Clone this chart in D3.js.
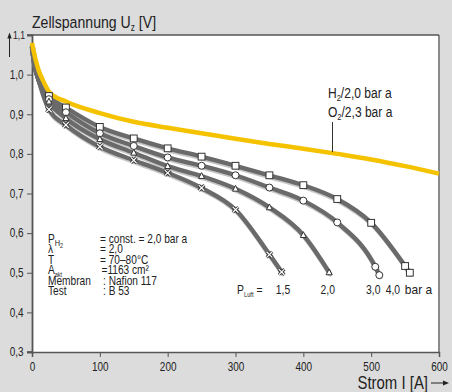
<!DOCTYPE html>
<html><head><meta charset="utf-8">
<script src="https://cdn.jsdelivr.net/npm/d3@7"></script>
<style>
html,body{margin:0;padding:0;background:#dcdcdc;}
svg text{font-family:"Liberation Sans",Arial,"Helvetica",sans-serif;fill:#222;}
</style></head>
<body><svg id="c" width="452" height="392"></svg>
<script>
// ---- data ----
const xTicks = [0, 100, 200, 300, 400, 500, 600];
const yTicks = [0.3, 0.4, 0.5, 0.6, 0.7, 0.8, 0.9, 1.0];
const yTickLabels = ["0,3", "0,4", "0,5", "0,6", "0,7", "0,8", "0,9", "1,0"];
// Pure H2/O2 reference curve (current A, voltage V)
const h2o2I = [0, 5, 10, 16, 26, 50, 100, 150, 200, 250, 300, 350, 400, 450, 500, 550, 600];
const h2o2U = [1.08, 1.04, 1.01, 0.986, 0.955, 0.932, 0.903, 0.881, 0.866, 0.852, 0.838, 0.825, 0.813, 0.800, 0.786, 0.769, 0.750];
// common start of the air curves
const startI = [0, 3, 10];
const startU = [1.07, 1.03, 0.985];
// air pressure series
const luft40I = [25, 50, 100, 150, 200, 250, 300, 350, 400, 450, 500, 550, 557];
const luft40U = [0.946, 0.917, 0.868, 0.839, 0.814, 0.793, 0.770, 0.746, 0.721, 0.686, 0.626, 0.517, 0.500];
const luft30I = [25, 50, 100, 150, 200, 250, 300, 350, 400, 450, 506, 512];
const luft30U = [0.938, 0.905, 0.852, 0.820, 0.791, 0.770, 0.746, 0.715, 0.682, 0.627, 0.515, 0.494];
const luft20I = [25, 50, 100, 150, 200, 250, 300, 350, 400, 438];
const luft20U = [0.932, 0.890, 0.837, 0.803, 0.769, 0.744, 0.712, 0.665, 0.595, 0.501];
const luft15I = [25, 50, 100, 150, 200, 250, 300, 350, 368];
const luft15U = [0.912, 0.873, 0.818, 0.784, 0.752, 0.714, 0.659, 0.546, 0.502];
const seriesNames = ["4,0", "3,0", "2,0", "1,5"];
const seriesMarkers = ["square", "circle", "triangle", "cross"];
const pLabelI = [532, 503, 436, 370]; // label positions (current) under curves

const S = d3.select("#c");
const W = 452, H = 392;
const SX = 0.83; // condensed look
const x = d3.scaleLinear().domain([0, 600]).range([32, 439]);
const y = d3.scaleLinear().domain([0.3, 1.1]).range([352, 35]);

function T(parent, tx, ty, size, anchor, sx) {
  return parent.append("text")
    .attr("transform", `translate(${tx},${ty}) scale(${sx || SX},1)`)
    .attr("font-size", size).attr("text-anchor", anchor || "start");
}

S.append("rect").attr("width", W).attr("height", H).attr("fill", "#dcdcdc");
S.append("rect").attr("x", x(0)).attr("y", y(1.1)).attr("width", x(600) - x(0)).attr("height", y(0.3) - y(1.1)).attr("fill", "#fff");

// frame
S.append("line").attr("x1", x(600)).attr("x2", x(600)).attr("y1", y(1.1)).attr("y2", y(0.3)).attr("stroke", "#8a8a8a").attr("stroke-width", 2);
S.append("line").attr("x1", 27).attr("x2", x(600)).attr("y1", y(1.1)).attr("y2", y(1.1)).attr("stroke", "#555").attr("stroke-width", 1.3);

// axes
const yAxis = d3.axisLeft(y).tickValues(yTicks).tickSize(5).tickFormat((d, i) => yTickLabels[i]);
const gy = S.append("g").attr("transform", `translate(${x(0)},0)`).call(yAxis);
gy.select(".domain").attr("stroke", "#555").attr("stroke-width", 1.8);
gy.selectAll(".tick line").attr("stroke", "#555");
gy.selectAll(".tick text").attr("font-size", 12).attr("fill", "#222")
  .attr("transform", `scale(${SX},1)`).attr("x", -8.5 / SX);

const xAxis = d3.axisBottom(x).tickValues(xTicks).tickSize(5).tickFormat(d3.format("d"));
const gx = S.append("g").attr("transform", `translate(0,${y(0.3)})`).call(xAxis);
gx.select(".domain").attr("stroke", "#555").attr("stroke-width", 1.5);
gx.selectAll(".tick line").attr("stroke", "#555");
gx.selectAll(".tick text").attr("font-size", 12).attr("fill", "#222").attr("y", 10)
  .attr("transform", `scale(${SX},1)`);
S.append("line").attr("x1", 27).attr("x2", x(0)).attr("y1", y(0.3)).attr("y2", y(0.3)).attr("stroke", "#555").attr("stroke-width", 1.5);

// 1,1 label + arrow
T(S, 25, y(1.1) + 4, 10.5, "end").text("1,1");
S.append("line").attr("x1", 9.5).attr("x2", 9.5).attr("y1", 57).attr("y2", 37).attr("stroke", "#222").attr("stroke-width", 1);
S.append("path").attr("d", "M7.3,38.5L9.5,32.5L11.7,38.5Z").attr("fill", "#222");

// title
const t = T(S, 32, 28, 17);
t.append("tspan").text("Zellspannung U");
t.append("tspan").attr("font-size", 10).attr("dy", 3).text("z");
t.append("tspan").attr("dy", -3).text(" [V]");

// x label
T(S, 428, 389, 18, "end").text("Strom I [A]");
S.append("line").attr("x1", 431).attr("x2", 445).attr("y1", 383).attr("y2", 383).attr("stroke", "#222").attr("stroke-width", 1);
S.append("path").attr("d", "M443,380.5L449,383L443,385.5Z").attr("fill", "#222");

// curves
const line = d3.line().x(d => x(d[0])).y(d => y(d[1])).curve(d3.curveMonotoneX);
const zip = (a, b) => a.map((v, i) => [v, b[i]]);
const startPts = zip(startI, startU);
const series = [
  zip(luft40I, luft40U),
  zip(luft30I, luft30U),
  zip(luft20I, luft20U),
  zip(luft15I, luft15U)
];
const gLines = S.append("g");
series.forEach(s => {
  const pts = startPts.concat(s);
  gLines.append("path").attr("d", line(pts)).attr("fill", "none").attr("stroke", "#c6c6c6").attr("stroke-width", 5).attr("transform", "translate(1,1.7)").attr("stroke-linecap", "round");
});
series.forEach(s => {
  const pts = startPts.concat(s);
  gLines.append("path").attr("d", line(pts)).attr("fill", "none").attr("stroke", "#6a6a6a").attr("stroke-width", 4.4).attr("stroke-linecap", "round");
});
S.append("path").attr("d", line(zip(h2o2I, h2o2U))).attr("fill", "none").attr("stroke", "#f5c200").attr("stroke-width", 4.5);

// markers
const mk = S.append("g");
series.forEach((s, k) => {
  const type = seriesMarkers[k];
  s.forEach(p => {
    const cx = x(p[0]), cy = y(p[1]);
    if (type === "square") {
      mk.append("rect").attr("x", cx - 3.4).attr("y", cy - 3.4).attr("width", 6.8).attr("height", 6.8).attr("fill", "#fff").attr("stroke", "#333").attr("stroke-width", 1);
    } else if (type === "circle") {
      mk.append("circle").attr("cx", cx).attr("cy", cy).attr("r", 3.5).attr("fill", "#fff").attr("stroke", "#333").attr("stroke-width", 1);
    } else if (type === "triangle") {
      mk.append("path").attr("d", `M${cx},${cy - 3.4}L${cx + 3},${cy + 2.4}L${cx - 3},${cy + 2.4}Z`).attr("fill", "#fff").attr("stroke", "#333").attr("stroke-width", 1);
    } else {
      const d = `M${cx - 2.8},${cy - 2.8}L${cx + 2.8},${cy + 2.8}M${cx - 2.8},${cy + 2.8}L${cx + 2.8},${cy - 2.8}`;
      mk.append("path").attr("d", d).attr("stroke", "#333").attr("stroke-width", 3);
      mk.append("path").attr("d", d).attr("stroke", "#fff").attr("stroke-width", 1.2);
    }
  });
});

// H2/O2 label
S.append("line").attr("x1", x(443)).attr("x2", x(443)).attr("y1", 122).attr("y2", y(0.802) - 1).attr("stroke", "#333").attr("stroke-width", 1);
const l1 = T(S, 328, 98, 14.5);
l1.append("tspan").text("H");
l1.append("tspan").attr("font-size", 9).attr("dy", 3).text("2");
l1.append("tspan").attr("dy", -3).text("/2,0 bar a");
const l2 = T(S, 328, 116.5, 14.5);
l2.append("tspan").text("O");
l2.append("tspan").attr("font-size", 9).attr("dy", 3).text("2");
l2.append("tspan").attr("dy", -3).text("/2,3 bar a");

// condition block
const condLabels = ["P", "λ", "T", "A", "Membran", "Test"];
const condValues = ["= const. = 2,0 bar a", "= 2,0", "= 70–80°C", "=1163 cm²", ": Nafion 117", ": B 53"];
const condY = [242.5, 253, 263.5, 274, 284.5, 295];
const condX = [100, 100, 100, 101.5, 103, 103];
const BS = 0.78;
condLabels.forEach((lab, i) => {
  const tt = T(S, 48, condY[i], 13, "start", BS);
  tt.append("tspan").text(lab);
  if (i === 0) {
    tt.append("tspan").attr("font-size", 9.5).attr("dy", 3).text("H");
    tt.append("tspan").attr("font-size", 7).attr("dy", 2.5).text("2");
  }
  if (i === 3) {
    tt.append("tspan").attr("font-size", 7).attr("dy", 2.5).text("akt");
  }
  T(S, condX[i], condY[i], 13, "start", BS).text(condValues[i]);
});

// P_Luft labels
const pl = T(S, 237, 294, 12.5);
pl.append("tspan").text("P");
pl.append("tspan").attr("font-size", 7).attr("dy", 2.5).text("Luft");
pl.append("tspan").attr("dy", -2.5).text(" =");
seriesNames.forEach((n, i) => {
  T(S, x(pLabelI[i]), 294, 12.5, "middle").text(n);
  if (i === 0) T(S, x(pLabelI[i]) + 12, 294, 13, "start", 0.92).text("bar a");
});
</script></body></html>
